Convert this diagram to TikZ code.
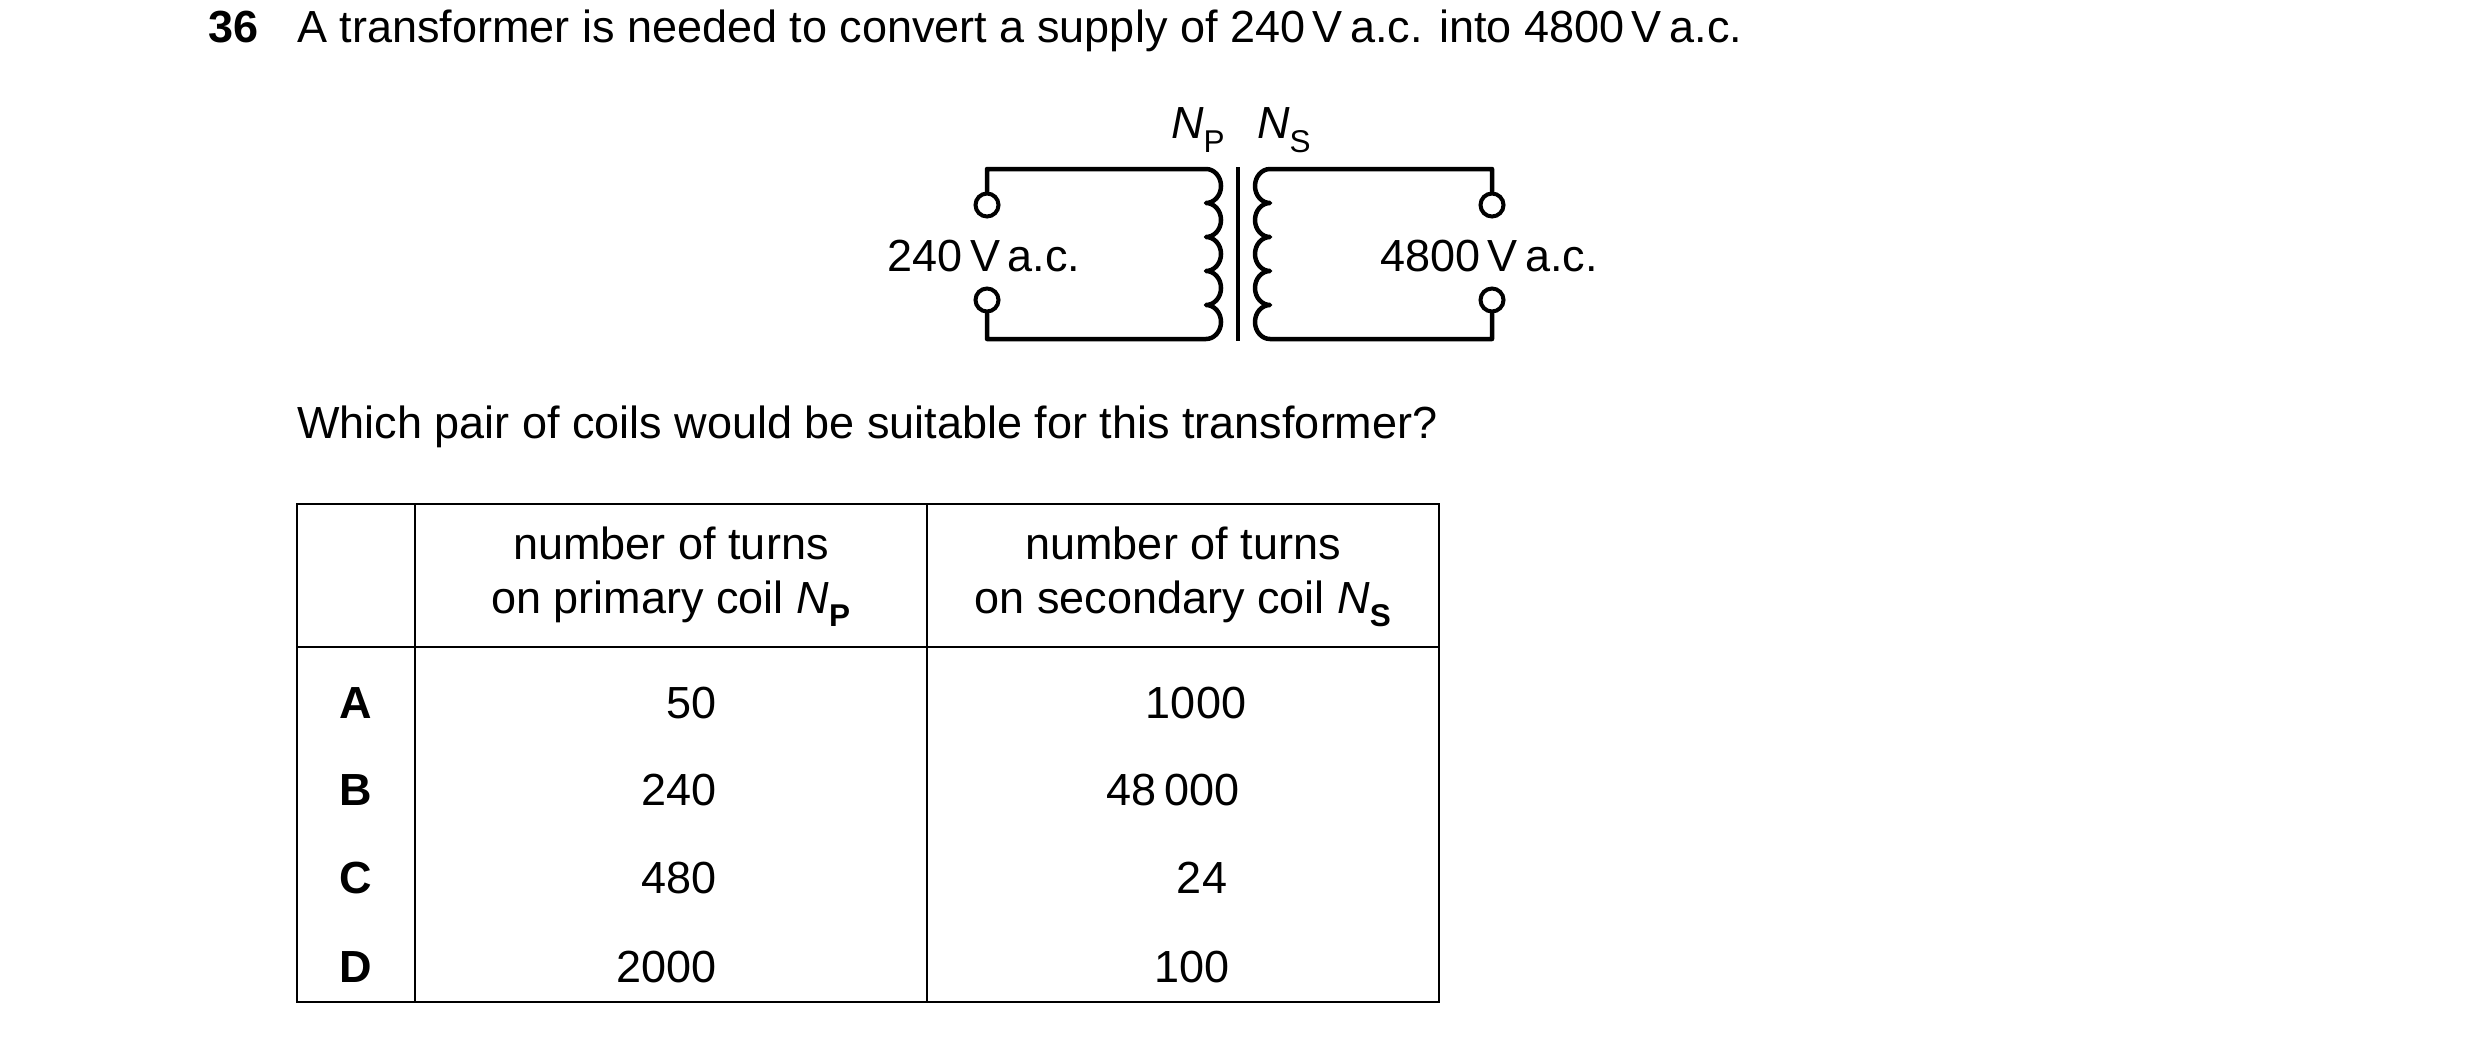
\documentclass[tikz,border=0pt]{standalone}
\usepackage{fontspec}
\setmainfont{Liberation Sans}
\begin{document}
\begin{tikzpicture}[x=1pt,y=-1pt,
  txt/.style={inner sep=0pt,font=\fontsize{45}{54}\selectfont},
  wire/.style={line width=4.5pt,line cap=round,line join=round},
  term/.style={circle,draw,line width=4pt,minimum size=23pt,inner sep=0pt},
  grid/.style={line width=2.5pt}]
\useasboundingbox (0,0) rectangle (2480,1037);
\fill[white] (0,0) rectangle (2480,1037);
% title
\node[txt,anchor=base west,font=\fontsize{45}{54}\selectfont\bfseries] (num) at (208,42) {36};
\node[txt,anchor=base west] (title) at (297,42) {A transformer is needed to convert a supply of 240\,V\,a.c. into 4800\,V\,a.c.};
% transformer
\node[term] (t1) at (987,205) {};
\node[term] (t2) at (987,300) {};
\node[term] (t3) at (1492,205) {};
\node[term] (t4) at (1492,300) {};
\draw[wire] (t1.north) -- (987,169) -- (1206,169)
  arc[start angle=-90,end angle=90,x radius=15,y radius=17]
  arc[start angle=-90,end angle=90,x radius=15,y radius=17]
  arc[start angle=-90,end angle=90,x radius=15,y radius=17]
  arc[start angle=-90,end angle=90,x radius=15,y radius=17]
  arc[start angle=-90,end angle=90,x radius=15,y radius=17]
  -- (987,339) -- (t2.south);
\draw[wire] (t3.north) -- (1492,169) -- (1270,169)
  arc[start angle=-90,end angle=-270,x radius=15,y radius=17]
  arc[start angle=-90,end angle=-270,x radius=15,y radius=17]
  arc[start angle=-90,end angle=-270,x radius=15,y radius=17]
  arc[start angle=-90,end angle=-270,x radius=15,y radius=17]
  arc[start angle=-90,end angle=-270,x radius=15,y radius=17]
  -- (1492,339) -- (t4.south);
\draw[line width=4.5pt] (1238,167) -- (1238,341);
\node[txt] (np) at (1198,130) {\textit{N}\textsubscript{P}};
\node[txt] (ns) at (1284,130) {\textit{N}\textsubscript{S}};
\node[txt] (vp) at (984,256) {240\,V\,a.c.};
\node[txt] (vs) at (1489,256) {4800\,V\,a.c.};
% question
\node[txt,anchor=base west] (q) at (297,438) {Which pair of coils would be suitable for this transformer?};
% table
\draw[grid] (297,504) rectangle (1439,1002);
\draw[grid] (297,647) -- (1439,647);
\draw[grid] (415,504) -- (415,1002);
\draw[grid] (927,504) -- (927,1002);
\node[txt,align=center] (h1) at (671,577) {number of turns\\on primary coil \textit{N}\textsubscript{\textbf{P}}};
\node[txt,align=center] (h2) at (1183,577) {number of turns\\on secondary coil \textit{N}\textsubscript{\textbf{S}}};
\foreach \l/\y/\a/\b/\bx in {A/703/50/1000/1196, B/790/240/48\,000/1173, C/878/480/24/1202, D/967/2000/100/1192}{
  \node[txt,font=\fontsize{45}{54}\selectfont\bfseries] (r\l) at (356,\y) {\l};
  \node[txt,anchor=east] (p\l) at (717,\y) {\a};
  \node[txt] (s\l) at (\bx,\y) {\b};
}
\end{tikzpicture}
\end{document}
